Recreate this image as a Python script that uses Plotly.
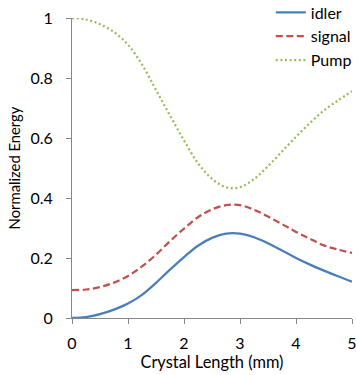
import plotly.graph_objects as go

length_mm = [0, 0.25, 0.5, 0.75, 1, 1.25, 1.5, 1.75, 2, 2.25, 2.5, 2.75, 3,
             3.25, 3.5, 3.75, 4, 4.25, 4.5, 4.75, 5]
idler = [0, 0.003, 0.013, 0.028, 0.048, 0.077, 0.117, 0.161, 0.203, 0.241,
         0.267, 0.281, 0.281, 0.269, 0.249, 0.225, 0.200, 0.178, 0.158, 0.139, 0.121]
signal = [0.093, 0.095, 0.103, 0.118, 0.140, 0.172, 0.211, 0.256, 0.298, 0.336,
          0.362, 0.376, 0.376, 0.361, 0.338, 0.313, 0.287, 0.264, 0.242, 0.228, 0.217]
pump = [1.0, 0.995, 0.979, 0.953, 0.911, 0.845, 0.760, 0.675, 0.592, 0.516,
        0.464, 0.436, 0.436, 0.463, 0.506, 0.555, 0.604, 0.650, 0.692, 0.725, 0.756]

x_ticks = [0, 1, 2, 3, 4, 5]
y_ticks = [0, 0.2, 0.4, 0.6, 0.8, 1]
y_tick_text = ["0", "0.2", "0.4", "0.6", "0.8", "1"]

FONT = "Lato, Open Sans, sans-serif"

fig = go.Figure()
fig.add_trace(go.Scatter(x=length_mm, y=idler, name="idler", mode="lines",
                         line=dict(color="#4A7EBB", width=2.25, shape="spline")))
fig.add_trace(go.Scatter(x=length_mm, y=signal, name="signal", mode="lines",
                         line=dict(color="#C0504D", width=2.25, shape="spline", dash="7px,3.5px")))
fig.add_trace(go.Scatter(x=length_mm, y=pump, name="Pump", mode="lines",
                         line=dict(color="#9BBB59", width=2.25, shape="spline", dash="2px,2.6px")))

fig.update_layout(
    width=356, height=375,
    margin=dict(l=72, r=4, t=18, b=57, autoexpand=False),
    paper_bgcolor="white", plot_bgcolor="white",
    font=dict(family=FONT, size=15, color="black"),
    showlegend=True,
    legend=dict(x=0.71, xanchor="left", y=1.075, yanchor="top",
                bgcolor="rgba(0,0,0,0)", font=dict(size=16, family=FONT),
                tracegroupgap=0, itemwidth=30),
    xaxis=dict(range=[0, 5], tickvals=x_ticks, showgrid=False, zeroline=False,
               showline=True, linecolor="#888888", linewidth=1,
               ticks="outside", ticklen=5, tickcolor="#888888",
               tickfont=dict(size=16), ticklabelstandoff=6, ticklabeloverflow="allow",
               title=dict(text="Crystal Length (mm)", font=dict(size=16.4), standoff=5)),
    yaxis=dict(range=[0, 1], tickvals=y_ticks, ticktext=y_tick_text, showgrid=False,
               zeroline=False, showline=True, linecolor="#888888", linewidth=1,
               ticks="outside", ticklen=5, tickcolor="#888888",
               tickfont=dict(size=16), ticklabelstandoff=10, ticklabeloverflow="allow",
               title=dict(text="Normalized Energy", font=dict(size=14.8), standoff=6)),
)

fig.write_html("out.html")
